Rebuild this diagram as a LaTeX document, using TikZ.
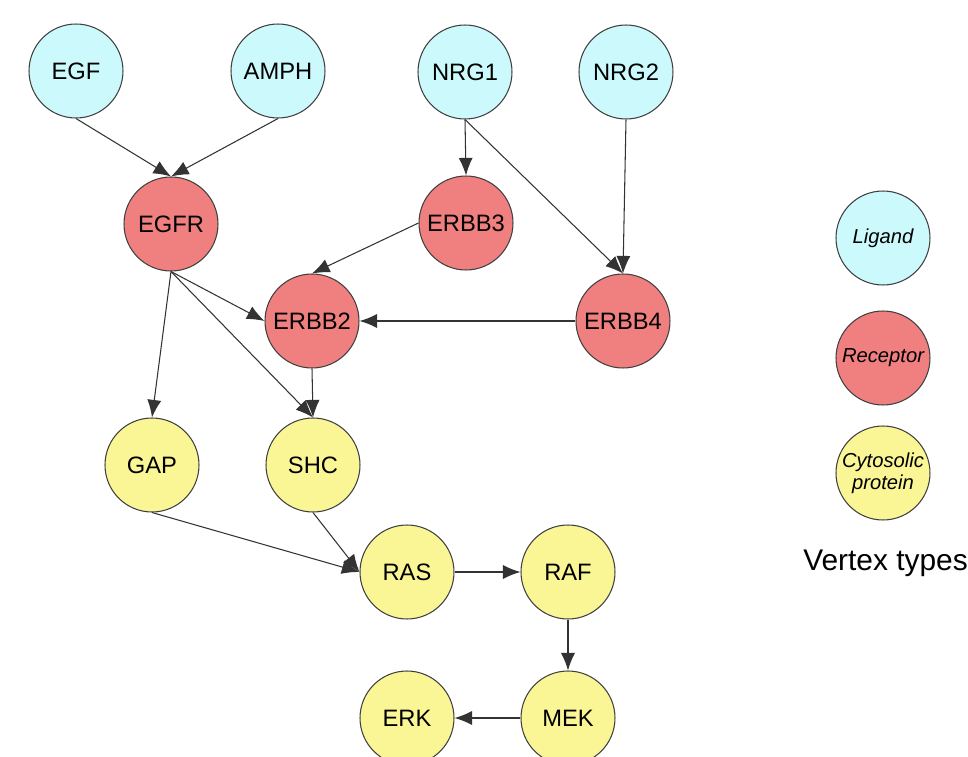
\documentclass[tikz,border=0pt]{standalone}
\usepackage{fontspec}
\setmainfont{Liberation Sans}
\usetikzlibrary{arrows.meta,shapes}
\definecolor{ligandcol}{RGB}{204,250,252}
\definecolor{receptorcol}{RGB}{240,128,128}
\definecolor{cytocol}{RGB}{250,246,150}
\tikzstyle{vertex}=[circle,draw=black!75,line width=0.6pt,minimum size=1.88cm,inner sep=0pt,font=\fontsize{13.5}{15}\selectfont]
\tikzstyle{ligand}=[vertex,fill=ligandcol]
\tikzstyle{receptor}=[vertex,fill=receptorcol]
\tikzstyle{cyto}=[vertex,fill=cytocol]
\tikzstyle{legend}=[font=\fontsize{11.5}{12.5}\selectfont\itshape,align=center]
\tikzstyle{edge} = [draw,black!80,line width=0.6pt,-]

\begin{document}
\begin{tikzpicture}[x=0.02cm,y=-0.02cm]
      \tikzset{edge/.style = {draw,black!80,line width=0.6pt,-{Latex[length=10pt,width=8pt]}}}
      \useasboundingbox (0,0) rectangle (968,757);
      % ligands
      \node[ligand] (egf) at (76,71) {EGF};
      \node[ligand] (amph) at (278,71) {AMPH};
      \node[ligand] (nrg1) at (465,72) {NRG1};
      \node[ligand] (nrg2) at (626,72) {NRG2};
      % receptors
      \node[receptor] (egfr) at (171,224) {EGFR};
      \node[receptor] (erbb3) at (466,223) {ERBB3};
      \node[receptor] (erbb2) at (312,321) {ERBB2};
      \node[receptor] (erbb4) at (623,321) {ERBB4};
      % cytosolic proteins
      \node[cyto] (gap) at (152,465) {GAP};
      \node[cyto] (shc) at (313,465) {SHC};
      \node[cyto] (ras) at (407,572) {RAS};
      \node[cyto] (raf) at (568,572) {RAF};
      \node[cyto] (mek) at (568,718) {MEK};
      \node[cyto] (erk) at (407,718) {ERK};
      \draw[edge] (egf.south) to (egfr.north);
      \draw[edge] (amph.south) to (egfr.north);
      \draw[edge] (nrg1.south) to (erbb3.north);
      \draw[edge] (nrg1.south) to (erbb4.north);
      \draw[edge] (nrg2.south) to (erbb4.north);
      \draw[edge] (erbb3.west) to (erbb2.north);
      \draw[edge] (egfr.south) to (erbb2.west);
      \draw[edge] (erbb4.west) to (erbb2.east);
      \draw[edge] (egfr.south) to (gap.north);
      \draw[edge] (egfr.south) to (shc.north);
      \draw[edge] (erbb2.south) to (shc.north);
      \draw[edge] (gap.south) to (ras.west);
      \draw[edge] (shc.south) to (ras.west);
      \draw[edge] (ras.east) to (raf.west);
      \draw[edge] (raf.south) to (mek.north);
      \draw[edge] (mek.west) to (erk.east);
      % vertex types
      \node[ligand,legend] (lig) at (883,238) {Ligand};
      \node[receptor,legend] (rec) at (883,358) {Receptor};
      \node[cyto,legend] (cyt) at (883,473) {Cytosolic\\protein};
      \node[anchor=base west,font=\fontsize{17}{19}\selectfont,inner sep=0pt] (types) at (803,570) {Vertex types};
\end{tikzpicture}
\end{document}
